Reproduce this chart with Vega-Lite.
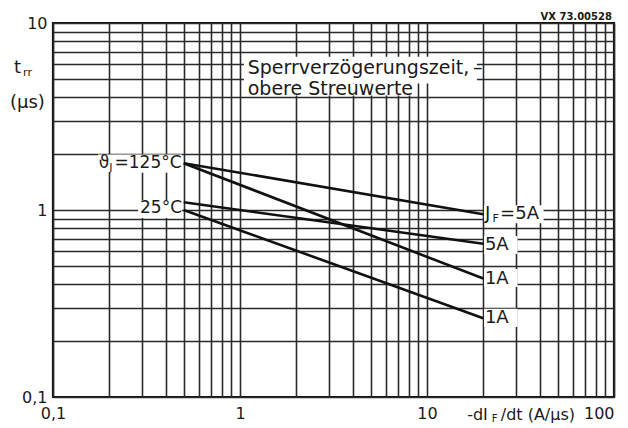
{
  "$schema": "https://vega.github.io/schema/vega-lite/v6.json",
  "autosize": "none",
  "padding": {"left": 53, "top": 23, "right": 14, "bottom": 31},
  "width": 561,
  "height": 374,
  "background": "white",
  "config": {
    "view": {"stroke": "#111", "strokeWidth": 2.2},
    "text": {"font": "DejaVu Sans", "color": "#1a1a1a"},
    "axis": {"labelFont": "DejaVu Sans", "labelFontSize": 16, "labelColor": "#1a1a1a", "gridColor": "#2a2a2a", "gridWidth": 1.6, "gridOpacity": 1, "ticks": false, "domain": false, "title": null}
  },
  "datasets": {
    "lines": [
      {"s": "125_5A", "x": 0.5, "y": 1.78}, {"s": "125_5A", "x": 20, "y": 0.95},
      {"s": "125_1A", "x": 0.5, "y": 1.78}, {"s": "125_1A", "x": 20, "y": 0.43},
      {"s": "25_5A", "x": 0.5, "y": 1.1}, {"s": "25_5A", "x": 20, "y": 0.66},
      {"s": "25_1A", "x": 0.5, "y": 1.0}, {"s": "25_1A", "x": 20, "y": 0.264}
    ],
    "boxes": [
      {"x": 1.05, "x2": 18.5, "y": 4.75, "y2": 6.6},
      {"x": 1.05, "x2": 8.8, "y": 4.1, "y2": 4.75},
      {"x": 0.174, "x2": 0.49, "y": 1.58, "y2": 1.98},
      {"x": 0.285, "x2": 0.49, "y": 0.906, "y2": 1.13},
      {"x": 20.2, "x2": 42, "y": 0.85, "y2": 1.06},
      {"x": 20.2, "x2": 30.5, "y": 0.582, "y2": 0.726},
      {"x": 20.2, "x2": 30.5, "y": 0.388, "y2": 0.484},
      {"x": 20.2, "x2": 30.5, "y": 0.237, "y2": 0.296}
    ],
    "boxText": [
      {"t": "Sperrverzögerungszeit,", "x": 1.1, "y": 5.75},
      {"t": "–", "x": 17.6, "y": 5.75},
      {"t": "obere Streuwerte", "x": 1.1, "y": 4.45}
    ],
    "textLeft": [
      {"t": "J", "x": 20.4, "y": 0.95},
      {"t": "=5A", "x": 24.6, "y": 0.95},
      {"t": "5A", "x": 20.4, "y": 0.65},
      {"t": "1A", "x": 20.4, "y": 0.43},
      {"t": "1A", "x": 20.4, "y": 0.265},
      {"t": "t", "x": 0.0619, "y": 5.75},
      {"t": "(µs)", "x": 0.0589, "y": 3.73}
    ],
    "textRight": [
      {"t": "25°C", "x": 0.49, "y": 1.02},
      {"t": "=125°C", "x": 0.487, "y": 1.78},
      {"t": "ϑ", "x": 0.2, "y": 1.78}
    ],
    "textSub": [
      {"t": "J", "x": 0.2, "y": 1.78},
      {"t": "F", "x": 22.4, "y": 0.95},
      {"t": "rr", "x": 0.0692, "y": 5.75}
    ],
    "xtitle": [
      {"t": "-dI", "x": 16.4, "y": 0.1},
      {"t": "/dt (A/µs)", "x": 24.8, "y": 0.1}
    ],
    "xtitleSub": [
      {"t": "F", "x": 22.2, "y": 0.1}
    ],
    "code": [
      {"t": "VX 73.00528", "x": 97.5, "y": 10.77}
    ]
  },
  "encoding": {
    "x": {"field": "x", "type": "quantitative",
      "scale": {"type": "log", "domain": [0.1, 100], "nice": false},
      "axis": {"values": [0.1,0.2,0.3,0.4,0.5,0.6,0.7,0.8,0.9,1,2,3,4,5,6,7,8,9,10,20,30,40,50,60,70,80,90,100],
        "labelExpr": "datum.value == 0.1 ? '0,1' : datum.value == 1 ? '1' : datum.value == 10 ? '10' : datum.value == 100 ? '100' : ''",
        "labelFlush": false,
        "labelAlign": {"condition": {"test": "datum.value == 100", "value": "right"}, "value": "center"},
        "labelPadding": 8, "labelBaseline": "top"}},
    "y": {"field": "y", "type": "quantitative",
      "scale": {"type": "log", "domain": [0.1, 10], "nice": false},
      "axis": {"values": [0.1,0.2,0.3,0.4,0.5,0.6,0.7,0.8,0.9,1,2,3,4,5,6,7,8,9,10],
        "labelExpr": "datum.value == 0.1 ? '0,1' : datum.value == 1 ? '1' : datum.value == 10 ? '10' : ''",
        "labelPadding": 6}}
  },
  "layer": [
    {"data": {"name": "boxes"}, "mark": {"type": "rect", "color": "white"},
      "encoding": {"x2": {"field": "x2"}, "y2": {"field": "y2"}}},
    {"data": {"name": "lines"}, "mark": {"type": "line", "color": "#111", "strokeWidth": 2.6},
      "encoding": {"detail": {"field": "s"}}},
    {"data": {"name": "boxText"}, "mark": {"type": "text", "align": "left", "baseline": "middle", "fontSize": 19},
      "encoding": {"text": {"field": "t"}}},
    {"data": {"name": "textLeft"}, "mark": {"type": "text", "align": "left", "baseline": "middle", "fontSize": 18},
      "encoding": {"text": {"field": "t"}}},
    {"data": {"name": "textRight"}, "mark": {"type": "text", "align": "right", "baseline": "middle", "fontSize": 17},
      "encoding": {"text": {"field": "t"}}},
    {"data": {"name": "textSub"}, "mark": {"type": "text", "align": "left", "baseline": "middle", "fontSize": 11, "dy": 5},
      "encoding": {"text": {"field": "t"}}},
    {"data": {"name": "xtitle"}, "mark": {"type": "text", "align": "left", "baseline": "middle", "fontSize": 16, "dy": 18},
      "encoding": {"text": {"field": "t"}}},
    {"data": {"name": "xtitleSub"}, "mark": {"type": "text", "align": "left", "baseline": "middle", "fontSize": 10, "dy": 22},
      "encoding": {"text": {"field": "t"}}},
    {"data": {"name": "code"}, "mark": {"type": "text", "align": "right", "baseline": "middle", "fontSize": 10, "fontWeight": "bold"},
      "encoding": {"text": {"field": "t"}}}
  ]
}
